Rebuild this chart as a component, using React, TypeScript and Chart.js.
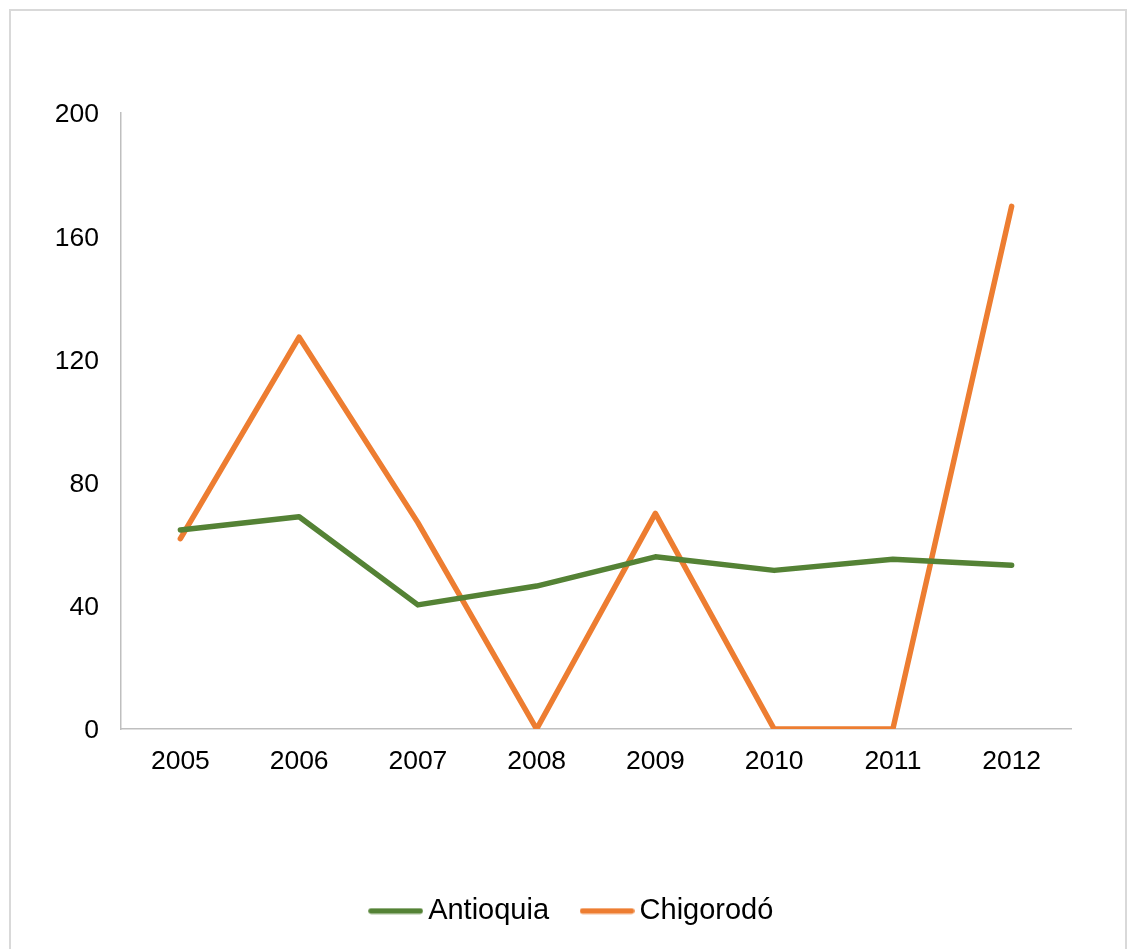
import React, { useEffect, useRef } from "react";
import { Chart, registerables } from "chart.js";

Chart.register(...registerables);

const years = ["2005", "2006", "2007", "2008", "2009", "2010", "2011", "2012"];
const antioquia = [64.6, 68.9, 40.3, 46.4, 55.9, 51.5, 55.1, 53.2];
const chigorodo = [61.8, 127.2, 67, 0, 70, 0, 0, 169.7];
const seriesNames = ["Antioquia", "Chigorodó"];
const seriesColors = ["#548235", "#ED7D31"];

const FONT = "'Liberation Sans', Arial, sans-serif";

function legendLine(color: string): HTMLCanvasElement {
  const c = document.createElement("canvas");
  c.width = 55;
  c.height = 7;
  const ctx = c.getContext("2d")!;
  ctx.strokeStyle = color;
  ctx.lineWidth = 5.5;
  ctx.lineCap = "round";
  ctx.beginPath();
  ctx.moveTo(3, 3.5);
  ctx.lineTo(52, 3.5);
  ctx.stroke();
  return c;
}

const borderPlugin = {
  id: "outerBorder",
  beforeDraw(chart: any) {
    const ctx = chart.ctx;
    ctx.save();
    ctx.fillStyle = "#ffffff";
    ctx.fillRect(0, 0, chart.width, chart.height);
    ctx.strokeStyle = "#d9d9d9";
    ctx.lineWidth = 2;
    ctx.strokeRect(10, 10, 1116, 960);
    ctx.restore();
  },
};

const legendShiftPlugin = {
  id: "legendShift",
  afterLayout(chart: any) {
    if (chart.legend) {
      chart.legend.left += 80;
    }
  },
};

export default function App() {
  const ref = useRef<HTMLCanvasElement | null>(null);
  useEffect(() => {
    if (!ref.current) return;
    const chart = new Chart(ref.current, {
      type: "line",
      data: {
        labels: years,
        datasets: [
          {
            label: seriesNames[0],
            data: antioquia,
            borderColor: seriesColors[0],
            backgroundColor: seriesColors[0],
            borderWidth: 5.5,
            pointRadius: 0,
            pointStyle: legendLine(seriesColors[0]),
            tension: 0,
            borderCapStyle: "round",
            borderJoinStyle: "round",
          },
          {
            label: seriesNames[1],
            data: chigorodo,
            borderColor: seriesColors[1],
            backgroundColor: seriesColors[1],
            borderWidth: 5.5,
            pointRadius: 0,
            pointStyle: legendLine(seriesColors[1]),
            tension: 0,
            borderCapStyle: "round",
            borderJoinStyle: "round",
          },
        ],
      },
      options: {
        animation: false,
        responsive: false,
        maintainAspectRatio: false,
        layout: { padding: { top: 113, right: 57, left: 0, bottom: 13.5 } },
        plugins: {
          tooltip: { enabled: false },
          legend: {
            position: "bottom",
            labels: {
              usePointStyle: true,
              pointStyleWidth: 36,
              boxWidth: 36,
              boxHeight: 7,
              padding: 40,
              color: "#000000",
              font: { family: FONT, size: 29 },
            },
          },
        },
        scales: {
          x: {
            offset: true,
            grid: { display: false, drawTicks: false },
            border: { display: true, color: "#bfbfbf", width: 1.5 },
            ticks: {
              color: "#000000",
              font: { family: FONT, size: 26.5 },
              padding: 17,
              maxRotation: 0,
            },
            afterFit(scale: any) {
              scale.height = 127.5;
            },
          },
          y: {
            min: 0,
            max: 200,
            grid: { display: false, drawTicks: false },
            border: { display: true, color: "#bfbfbf", width: 1.5 },
            ticks: {
              stepSize: 40,
              color: "#000000",
              font: { family: FONT, size: 26.5 },
              padding: 22,
              labelOffset: 2,
            },
            afterFit(scale: any) {
              scale.width = 121;
            },
          },
        },
      },
      plugins: [borderPlugin, legendShiftPlugin],
    });
    return () => chart.destroy();
  }, []);
  return (
    <div style={{ position: "absolute", left: 0, top: 0, width: 1128, height: 949 }}>
      <canvas ref={ref} width={1128} height={949} style={{ width: 1128, height: 949, display: "block" }} />
    </div>
  );
}
